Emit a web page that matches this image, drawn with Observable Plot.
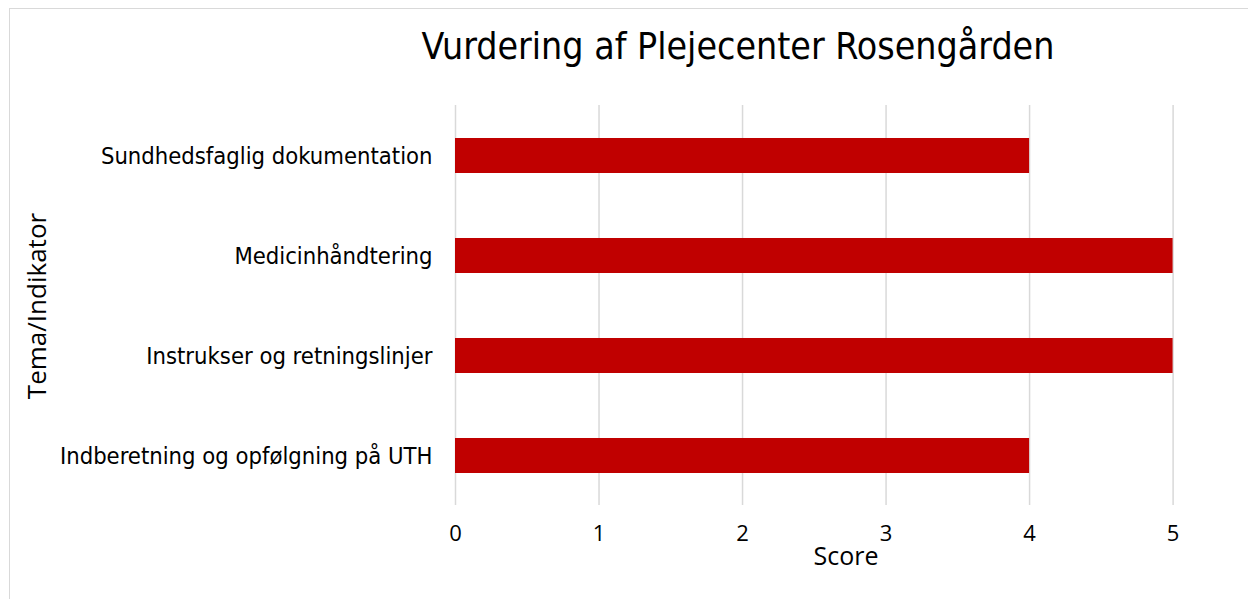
<!DOCTYPE html>
<html>
<head>
<meta charset="utf-8">
<script src="https://cdn.jsdelivr.net/npm/d3@7"></script>
<script src="https://cdn.jsdelivr.net/npm/@observablehq/plot@0.6"></script>
<style>
  html, body { margin: 0; padding: 0; background: #fff; }
  #wrap { position: relative; width: 1248px; height: 599px; overflow: hidden; }
  #frame { position: absolute; left: 9px; top: 8px; width: 1260px; height: 620px; border-left: 1.5px solid #d9d9d9; border-top: 1.5px solid #d9d9d9; }
  #title { position: absolute; left: 0; width: 1476px; top: 28px; line-height: 1; text-align: center; font-family: "DejaVu Sans Condensed", "DejaVu Sans", sans-serif; font-stretch: condensed; font-size: 37.2px; color: #000; white-space: nowrap; }
  #xlabel { position: absolute; left: 846px; transform: translateX(-50%); top: 543px; line-height: 1; font-family: "Open Sans", sans-serif; font-size: 25px; color: #000; }
  #ylabel { position: absolute; left: 36px; top: 306px; line-height: 1; transform: translate(-50%, -50%) rotate(-90deg); font-family: "Open Sans", sans-serif; font-size: 26px; color: #000; white-space: nowrap; }
  #chart { position: absolute; left: 0; top: 0; }
</style>
</head>
<body>
<div id="wrap">
  <div id="frame"></div>
  <div id="chart"></div>
  <div id="title">Vurdering af Plejecenter Rosengården</div>
  <div id="xlabel">Score</div>
  <div id="ylabel">Tema/Indikator</div>
</div>
<script>
const categories = [
  "Sundhedsfaglig dokumentation",
  "Medicinhåndtering",
  "Instrukser og retningslinjer",
  "Indberetning og opfølgning på UTH"
];
const scores = [4, 5, 5, 4];
const xTicks = [0, 1, 2, 3, 4, 5];

const data = categories.map((c, i) => ({ tema: c, score: scores[i] }));

const chart = Plot.plot({
  width: 1248,
  height: 599,
  marginTop: 105,
  marginBottom: 94,
  marginLeft: 455,
  marginRight: 75.4,
  style: { background: "transparent", overflow: "visible" },
  x: { domain: [0, 5], ticks: xTicks, label: null },
  y: { domain: categories, paddingInner: 0.65, paddingOuter: 0.325, label: null },
  marks: [
    Plot.ruleX(xTicks, { stroke: "#d9d9d9", strokeWidth: 1.5, strokeOpacity: 1 }),
    Plot.barX(data, { x: "score", y: "tema", fill: "#c00000" }),
    Plot.axisX({ ticks: xTicks, tickFormat: "d", tickSize: 0, tickPadding: 20, fontSize: 22, fontFamily: "Open Sans", label: null, fill: "#000" }),
    Plot.axisY({ tickSize: 0, tickPadding: 23, fontSize: 23.6, fontFamily: "DejaVu Sans Condensed, DejaVu Sans, sans-serif", label: null, fill: "#000" })
  ]
});
document.getElementById("chart").appendChild(chart);
</script>
</body>
</html>
